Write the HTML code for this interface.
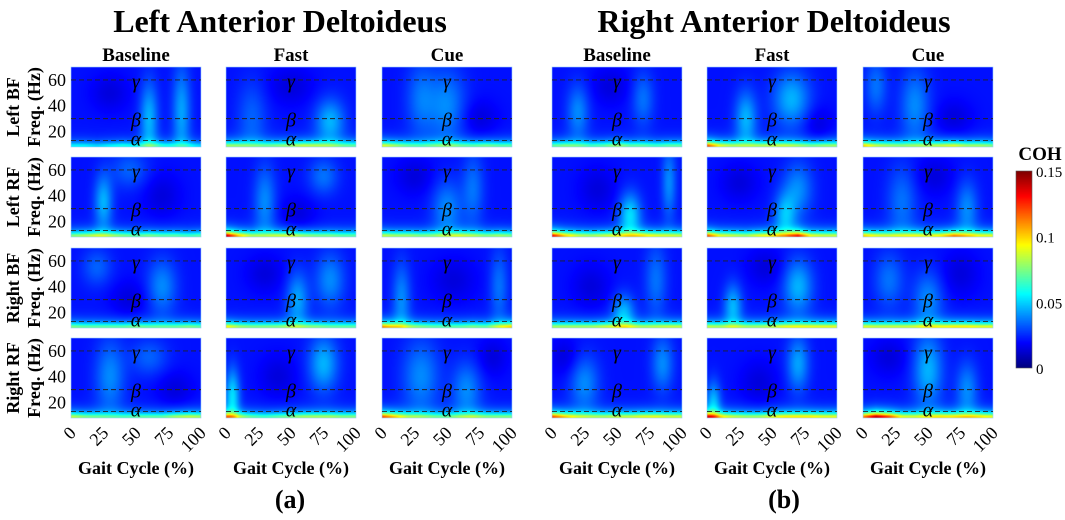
<!DOCTYPE html>
<html><head><meta charset="utf-8">
<style>
body{margin:0;background:#fff;width:1065px;height:520px;overflow:hidden;position:relative;font-family:"Liberation Serif",serif;}
canvas{position:absolute;}
svg{position:absolute;left:0;top:0;}
</style></head>
<body>
<div id="maps"></div>
<canvas id="cbar" width="16" height="197" style="left:1016px;top:171px;"></canvas>
<svg id="ov" width="1065" height="520"></svg>
<script>
// ---- data ----
const groups = ["Left Anterior Deltoideus","Right Anterior Deltoideus"];
const conditions = ["Baseline","Fast","Cue"];
const muscles = ["Left BF","Left RF","Right BF","Right RF"];
const yTicks = [20,40,60];
const xTicks = [0,25,50,75,100];
const bandFreqs = [60,30,13];
const bandLabels = ["γ","β","α"];
const cbTicks = [0,0.05,0.1,0.15];
// bottom-band (alpha) coherence across gait cycle, 11 samples per panel; order group,muscle,condition
const bottomBand = [
 [[.055,.055,.05,.055,.06,.055,.065,.06,.055,.055,.05],[.08,.075,.07,.07,.075,.08,.085,.08,.075,.07,.07],[.09,.08,.07,.065,.07,.075,.07,.07,.075,.07,.07]],
 [[.075,.08,.085,.08,.075,.07,.075,.07,.07,.065,.07],[.14,.1,.08,.075,.085,.09,.08,.075,.075,.07,.07],[.085,.08,.08,.075,.075,.08,.085,.08,.075,.08,.075]],
 [[.075,.07,.07,.07,.07,.075,.07,.07,.07,.075,.07],[.095,.08,.075,.075,.075,.08,.075,.075,.07,.07,.07],[.11,.095,.08,.075,.07,.07,.07,.075,.07,.085,.1]],
 [[.085,.075,.07,.065,.065,.07,.07,.07,.08,.085,.08],[.11,.08,.07,.065,.07,.075,.08,.08,.08,.075,.075],[.12,.1,.08,.075,.07,.07,.075,.08,.075,.075,.075]],
 [[.07,.075,.07,.065,.07,.08,.07,.07,.065,.07,.07],[.12,.09,.08,.075,.08,.085,.085,.08,.075,.08,.08],[.1,.085,.08,.075,.075,.08,.085,.09,.08,.08,.075]],
 [[.13,.1,.085,.08,.085,.09,.09,.095,.09,.085,.085],[.12,.09,.085,.08,.09,.095,.1,.125,.09,.085,.085],[.1,.09,.085,.085,.09,.09,.095,.11,.095,.09,.09]],
 [[.08,.08,.08,.08,.085,.085,.085,.08,.08,.085,.085],[.085,.08,.08,.08,.08,.085,.09,.09,.09,.09,.09],[.09,.085,.085,.085,.085,.09,.09,.095,.095,.09,.09]],
 [[.12,.1,.085,.08,.08,.085,.085,.09,.09,.085,.085],[.13,.095,.085,.08,.08,.09,.095,.095,.095,.09,.09],[.11,.14,.12,.09,.085,.09,.095,.095,.095,.095,.09]]
];
// extra blobs per panel: [gait%, freqHz, coherence, widthPct, heightHz]
const blobs = [
 [[[60,30,.02,5,20],[85,35,.018,5,25],[30,50,-.006,10,10]],[[80,28,.02,8,12],[20,30,.01,8,20],[50,55,-.006,12,10]],[[50,40,.015,10,20],[30,45,.012,8,20],[75,30,-.006,10,10]]],
 [[[25,35,.02,5,15],[45,60,.01,10,10],[70,40,-.006,10,12]],[[30,35,.015,6,20],[75,55,.012,8,10],[55,25,-.006,10,10]],[[50,30,.015,8,15],[70,45,.012,6,20],[25,55,-.006,10,10]]],
 [[[70,40,.015,8,15],[20,55,.01,8,10],[45,30,-.006,10,10]],[[55,30,.018,6,15],[80,45,.015,8,15],[30,50,-.006,10,10]],[[15,30,.015,5,20],[90,40,.012,5,20],[55,45,-.006,12,12]]],
 [[[30,40,.015,8,20],[60,55,.01,10,10],[80,30,-.006,10,10]],[[5,25,.025,4,15],[75,50,.02,8,15],[40,40,-.006,10,12]],[[30,40,.015,10,20],[65,30,.015,8,15],[85,55,-.006,8,10]]],
 [[[20,35,.015,6,15],[70,45,.012,6,15],[45,55,-.006,10,10]],[[30,30,.02,6,15],[65,45,.02,10,15],[85,25,-.006,8,10]],[[40,40,.015,8,20],[10,55,.012,6,15],[70,30,-.006,10,10]]],
 [[[60,25,.025,6,12],[90,50,.015,4,20],[35,45,-.006,10,12]],[[60,25,.02,6,12],[70,45,.015,8,15],[25,50,-.006,10,10]],[[30,35,.012,8,20],[80,30,.015,6,15],[55,55,-.006,10,10]]],
 [[[55,20,.02,6,10],[80,45,.012,6,20],[30,40,-.006,10,12]],[[20,25,.02,5,12],[70,40,.02,8,15],[45,55,-.006,10,10]],[[50,30,.015,8,15],[20,45,.012,8,15],[75,50,-.006,10,12]]],
 [[[25,35,.015,8,15],[85,50,.015,6,15],[10,55,-.006,8,10]],[[5,20,.02,4,12],[70,50,.018,6,15],[40,35,-.006,10,12]],[[50,45,.02,8,20],[80,30,.015,6,15],[20,55,-.006,10,10]]]
];
// ---- layout ----
const colX=[[71,226,382],[552,707,863]], rowY=[67,157,248,338], PW=130, PH=80, FMIN=8, FMAX=70, CMAX=0.15;
function jet(v){v=Math.max(0,Math.min(1,v));
 const r=Math.max(0,Math.min(1,Math.min(4*v-1.5,-4*v+4.5)));
 const g=Math.max(0,Math.min(1,Math.min(4*v-0.5,-4*v+3.5)));
 const b=Math.max(0,Math.min(1,Math.min(4*v+0.5,-4*v+2.5)));
 return [r*255,g*255,b*255];}
const fy=(f,y0)=>y0+(FMAX-f)/(FMAX-FMIN)*PH;
const gx=(p,x0)=>x0+p/100*PW;
const maps=document.getElementById('maps');
for(let g=0;g<2;g++)for(let m=0;m<4;m++)for(let c=0;c<3;c++){
 const cv=document.createElement('canvas');
 
 
 cv.width=PW;cv.height=PH;cv.style.left=colX[g][c]+'px';cv.style.top=rowY[m]+'px';
 maps.appendChild(cv);
 const ctx=cv.getContext('2d'),img=ctx.createImageData(PW,PH);
 const bb=bottomBand[g*4+m][c],bl=blobs[g*4+m][c];
 const base=0.021;
 for(let y=0;y<PH;y++){const f=FMAX-(y+0.5)/PH*(FMAX-FMIN);
  for(let x=0;x<PW;x++){const p=(x+0.5)/PW*100;
   const t=p/10,i=Math.min(9,Math.floor(t)),fr=t-i,b=bb[i]*(1-fr)+bb[i+1]*fr;
   let v=base+(b-base)*Math.exp(-Math.max(0,f-9.5)/3.5);
   for(const k of bl){v+=k[2]*1.2*Math.exp(-((p-k[0])**2)/(2*k[3]*k[3])-((f-k[1])**2)/(2*k[4]*k[4]));}
   const col=jet(v/CMAX),o=(y*PW+x)*4;
   img.data[o]=col[0];img.data[o+1]=col[1];img.data[o+2]=col[2];img.data[o+3]=255;}}
 ctx.putImageData(img,0,0);
}
// colorbar
{const cv=document.getElementById('cbar'),ctx=cv.getContext('2d');
 for(let y=0;y<197;y++){const col=jet(1-y/196);ctx.fillStyle=`rgb(${col[0]|0},${col[1]|0},${col[2]|0})`;ctx.fillRect(0,y,16,1);}}
// ---- overlay ----
const svg=document.getElementById('ov'),NS='http://www.w3.org/2000/svg';
function el(tag,attrs,txt){const e=document.createElementNS(NS,tag);for(const k in attrs)e.setAttribute(k,attrs[k]);if(txt!==undefined)e.textContent=txt;svg.appendChild(e);return e;}
const groupCx=[280,774];
for(let g=0;g<2;g++){
 const t=el('text',{x:groupCx[g],y:32,'text-anchor':'middle','font-size':32,'font-weight':'bold'},groups[g]);
 
 
 const lab=el('text',{x:groupCx[g]+10,y:508,'text-anchor':'middle','font-size':26,'font-weight':'bold'},g?'(b)':'(a)');
 
 
 for(let c=0;c<3;c++){
  const x0=colX[g][c];
  const ct=el('text',{x:x0+PW/2,y:61,'text-anchor':'middle','font-size':19,'font-weight':'bold'},conditions[c]);
  
  
  for(const v of xTicks){const x=gx(v,x0);
   const tt=el('text',{x:0,y:0,'text-anchor':'end','font-size':18,transform:`translate(${x+6},${rowY[3]+PH+16}) rotate(-45)`},String(v));
   
   }
  const xl=el('text',{x:x0+PW/2,y:474,'text-anchor':'middle','font-size':18,'font-weight':'bold'},'Gait Cycle (%)');
  
  
  for(let m=0;m<4;m++){const y0=rowY[m];
   el('rect',{x:x0,y:y0,width:PW,height:PH,fill:'none',stroke:'#9cf','stroke-width':0.6});
   for(let b=0;b<3;b++){const y=fy(bandFreqs[b],y0);
    const ln=el('line',{x1:x0,x2:x0+PW,y1:y,y2:y,stroke:'#222','stroke-width':0.9,'stroke-dasharray':'5,3'});
    
    
    const gl=el('text',{x:x0+PW*0.5,y:y+(b==2?5:8),'text-anchor':'middle','font-size':20,'font-style':'italic'},bandLabels[b]);
    
    }
  }
 }
}
for(let m=0;m<4;m++){const y0=rowY[m];
 for(const v of yTicks){const yt=el('text',{x:66,y:fy(v,y0)+6,'text-anchor':'end','font-size':18},String(v));
  
  }
 const cy=y0+PH/2;
 const a=el('text',{x:0,y:0,'text-anchor':'middle','font-size':18,'font-weight':'bold',transform:`translate(19,${cy}) rotate(-90)`},muscles[m]);
 
 
 const b=el('text',{x:0,y:0,'text-anchor':'middle','font-size':18,'font-weight':'bold',transform:`translate(40,${cy}) rotate(-90)`},'Freq. (Hz)');
 
 
}
const ch=el('text',{x:1040,y:160,'text-anchor':'middle','font-size':19,'font-weight':'bold'},'COH');


el('rect',{x:1016,y:171,width:16,height:197,fill:'none',stroke:'#555','stroke-width':0.6});
for(const v of cbTicks){const y=368-v/CMAX*197;
 const t=el('text',{x:1036,y:y+6,'font-size':15},String(v));
 
 }
</script>
</body></html>
